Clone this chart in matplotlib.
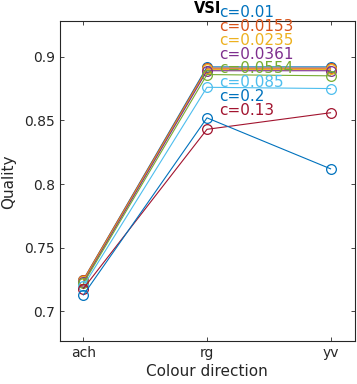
import numpy as np
import matplotlib
matplotlib.use('Agg')
import matplotlib.pyplot as plt
from matplotlib.ticker import FormatStrFormatter

#========================================================
# data
directions = ['ach', 'rg', 'yv']
c_labels = ['c=0.01', 'c=0.0153', 'c=0.0235', 'c=0.0361', 'c=0.0554',
            'c=0.085', 'c=0.13', 'c=0.2']
q_001 = [0.725, 0.892, 0.892]
q_0153 = [0.725, 0.891, 0.891]
q_0235 = [0.724, 0.890, 0.890]
q_0361 = [0.723, 0.889, 0.889]
q_0554 = [0.722, 0.886, 0.885]
q_085 = [0.720, 0.876, 0.875]
q_013 = [0.718, 0.843, 0.856]
q_02 = [0.713, 0.852, 0.812]
#========================================================

series = [q_001, q_0153, q_0235, q_0361, q_0554, q_085, q_013, q_02]
colours = ['#0072BD', '#D95319', '#EDB120', '#7E2F8E', '#77AC30',
           '#4DBEEE', '#A2142F', '#0072BD']

fig = plt.figure(figsize=(3.57, 3.84), dpi=100)
ax = fig.add_axes([0.168, 0.111, 0.825, 0.8335])

x = np.arange(1, len(directions) + 1)
for q, col in zip(series, colours):
    ax.plot(x, q, '-o', color=col, lw=0.8, ms=7, mfc='none', mew=0.9)

# text "legend", listed in the order of the original
order = [0, 1, 2, 3, 4, 5, 7, 6]
for k, i in enumerate(order):
    ax.text(2.097, 1.026 - 0.0434*k, c_labels[i], color=colours[i],
            fontsize=11, va='center', ha='left', transform=ax.get_xaxis_transform())

ax.set_xlim(0.81, 3.194)
ax.set_ylim(0.6765, 0.9278)
ax.set_xticks(x)
ax.set_xticklabels(directions)
ax.set_yticks([0.7, 0.75, 0.8, 0.85, 0.9])
ax.yaxis.set_major_formatter(FormatStrFormatter('%g'))
ax.tick_params(direction='in', top=True, right=True, length=3, width=0.6,
               labelsize=10, labelcolor='#262626', color='#262626')
for s in ax.spines.values():
    s.set_linewidth(0.8)
    s.set_color('#262626')

ax.set_xlabel('Colour direction', fontsize=11, color='#262626', labelpad=3)
ax.set_ylabel('Quality', fontsize=11, color='#262626', labelpad=6)
ax.set_title('VSI', fontsize=10.5, fontweight='bold', pad=6)

fig.savefig('out.png', dpi=100)
